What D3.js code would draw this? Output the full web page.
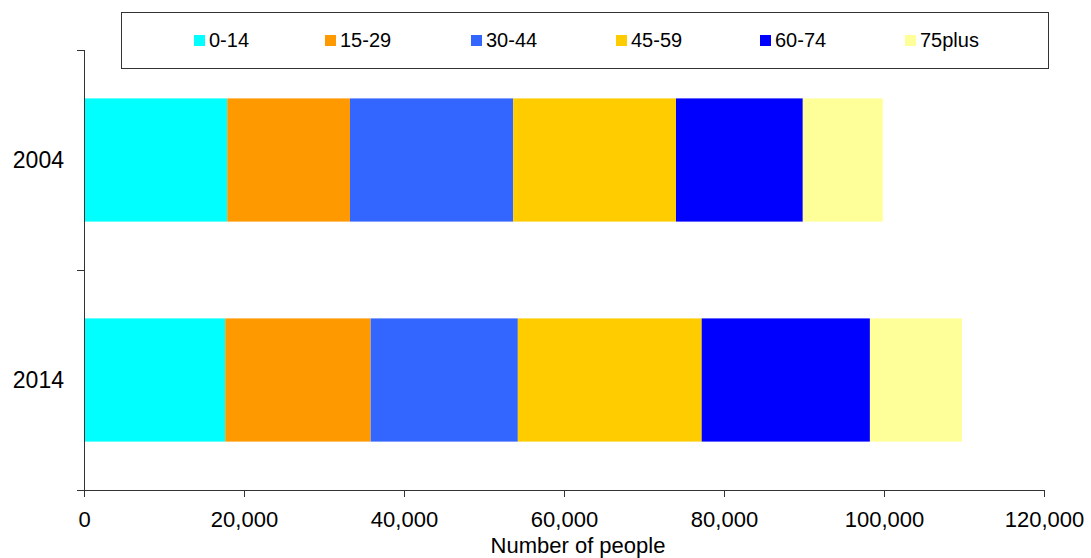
<!DOCTYPE html>
<html><head><meta charset="utf-8">
<script src="https://cdn.jsdelivr.net/npm/d3@7"></script>
<style>body{margin:0;background:#fff}svg{display:block;font-family:"Liberation Sans",Arial,sans-serif}</style>
</head><body><svg id="c" width="1091" height="558"></svg>
<script>
const years = ["2004", "2014"];
const ageGroups = ["0-14", "15-29", "30-44", "45-59", "60-74", "75plus"];
const values2004 = [17900, 15350, 20400, 20350, 15850, 10000];
const values2014 = [17650, 18180, 18400, 22980, 21030, 11500];
const colors = ["#00FFFF", "#FF9900", "#3366FF", "#FFCC00", "#0000FF", "#FFFF99"];
const xTicks = [0, 20000, 40000, 60000, 80000, 100000, 120000];
const xTitle = "Number of people";

const svg = d3.select("#c");
const L = 84, R = 1044, T = 50, B = 490;
const x = d3.scaleLinear().domain([0, 120000]).range([L, R]);
const y = d3.scaleBand().domain(years).range([T, B]).paddingInner(0.44).paddingOuter(0.22);

const rows = years.map((yr, i) => {
  const o = {year: yr};
  const vals = i === 0 ? values2004 : values2014;
  ageGroups.forEach((g, j) => o[g] = vals[j]);
  return o;
});
const stacked = d3.stack().keys(ageGroups)(rows);
const color = d3.scaleOrdinal().domain(ageGroups).range(colors);

svg.append("g").selectAll("g").data(stacked).join("g")
  .attr("fill", d => color(d.key))
  .selectAll("rect").data(d => d).join("rect")
  .attr("x", d => x(d[0]))
  .attr("width", d => x(d[1]) - x(d[0]))
  .attr("y", d => y(d.data.year))
  .attr("height", y.bandwidth());

// X axis
const xAxis = svg.append("g").attr("transform", `translate(0,${B})`)
  .call(d3.axisBottom(x).tickValues(xTicks).tickSize(7).tickSizeOuter(0).tickPadding(10)
    .tickFormat(d3.format(",")));
xAxis.select(".domain").attr("stroke", "#333").attr("d", `M${L - 7},0.5H${R}`);
xAxis.selectAll(".tick line").attr("stroke", "#333");
xAxis.selectAll(".tick text").attr("font-size", 22).attr("fill", "#000").attr("dy", null).attr("y", 37);

// Y axis with boundary ticks
const yAxisG = svg.append("g");
yAxisG.append("line").attr("x1", L + 0.5).attr("x2", L + 0.5).attr("y1", T).attr("y2", B).attr("stroke", "#333");
const boundaries = [T, (y(years[0]) + y.bandwidth() + y(years[1])) / 2, B];
yAxisG.selectAll("line.t").data(boundaries).join("line").attr("class", "t")
  .attr("x1", L - 7).attr("x2", L).attr("y1", d => Math.round(d) + 0.5).attr("y2", d => Math.round(d) + 0.5)
  .attr("stroke", "#333");
yAxisG.selectAll("text").data(years).join("text")
  .attr("x", 64).attr("y", d => y(d) + y.bandwidth() / 2)
  .attr("dy", "0.35em").attr("text-anchor", "end").attr("font-size", 23).text(d => d);

// X title
svg.append("text").attr("x", 578).attr("y", 553).attr("text-anchor", "middle")
  .attr("font-size", 22).text(xTitle);

// Legend
const lg = svg.append("g");
lg.append("rect").attr("x", 121.5).attr("y", 12.5).attr("width", 927).attr("height", 56)
  .attr("fill", "#fff").attr("stroke", "#333");
const lx = [194, 325, 471, 616, 760, 905];
const items = lg.selectAll("g").data(ageGroups).join("g")
  .attr("transform", (d, i) => `translate(${lx[i]},0)`);
items.append("rect").attr("x", 0).attr("y", 35).attr("width", 11).attr("height", 11).attr("fill", d => color(d));
items.append("text").attr("x", 15).attr("y", 47).attr("font-size", 20).text(d => d);
</script></body></html>
